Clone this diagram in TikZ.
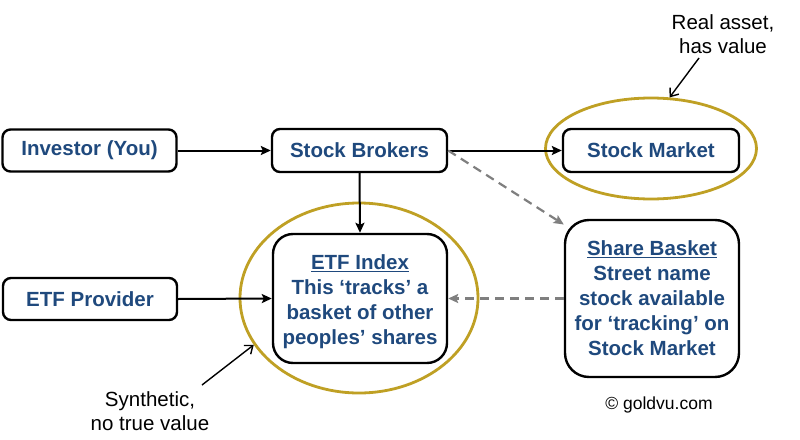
\documentclass[tikz,border=0pt]{standalone}
\usepackage{fontspec}
\setmainfont{Liberation Sans}
\usetikzlibrary{shapes.geometric,arrows.meta}
\definecolor{boxblue}{HTML}{1F497D}
\definecolor{ringgold}{HTML}{BFA024}
\definecolor{dashgray}{HTML}{7F7F7F}
\begin{document}
\begin{tikzpicture}[x=1pt,y=-1pt,
  box/.style={draw=black,line width=2.4pt,rounded corners=8pt,text=boxblue,
    font=\bfseries\fontsize{20.5}{25}\selectfont,inner sep=0pt,align=center},
  tallbox/.style={box,rounded corners=20pt},
  ring/.style={ellipse,draw=ringgold,line width=2.8pt,inner sep=0pt},
  flow/.style={draw=black,line width=2pt,-{Stealth[length=10pt,width=9pt,inset=2pt]}},
  dashflow/.style={draw=dashgray,line width=2.2pt,dash pattern=on 9pt off 6pt,
    -{Stealth[length=10pt,width=9pt,inset=2pt]}},
  note/.style={text=black,font=\fontsize{20.5}{24}\selectfont,align=center,inner sep=0pt},
  pointer/.style={draw=black,line width=1.4pt,-{Straight Barb[length=7pt,width=11pt]}}]
\fill[white] (0,0) rectangle (800,439);
\useasboundingbox (0,0) rectangle (800,439);
% rings
\node[ring,minimum width=211pt,minimum height=101pt] (ringm) at (651,148.5) {};
\node[ring,minimum width=238pt,minimum height=190pt] (ringi) at (359,298) {};
% boxes
\node[box,minimum width=174pt,minimum height=42pt] (inv) at (89.5,150.5) {Investor (You)};
\node[box,minimum width=175pt,minimum height=43pt] (brk) at (359.5,150.5) {Stock Brokers};
\node[box,minimum width=176pt,minimum height=43pt] (mkt) at (651,150.5) {Stock Market};
\node[box,minimum width=174pt,minimum height=42pt] (prov) at (90,299) {ETF Provider};
\node[tallbox,minimum width=174pt,minimum height=129pt] (idx) at (360,298.5)
  {\rule{0pt}{22pt}\underline{ETF Index}\\This ‘tracks’ a\\basket of other\\peoples’ shares};
\node[tallbox,rounded corners=24pt,minimum width=174pt,minimum height=157pt] (bsk) at (652,298.5)
  {\underline{Share Basket}\\Street name\\stock available\\for ‘tracking’ on\\Stock Market};
% notes
\node[note] (real) at (723,34) {Real asset,\\has value};
\node[note] (synth) at (150,411) {Synthetic,\\no true value};
\node[note,font=\fontsize{17.5}{20}\selectfont] (copy) at (659,405) {© goldvu.com};
\node[note,text=white,font=\fontsize{17.5}{20}\selectfont] (wmark) at (90,207) {© goldvu.com};
\coordinate (realtail) at (699,58);
\coordinate (synthtail) at (202,385);
% connectors
\draw[flow] (inv.east) -- (brk.west);
\draw[flow] (brk.east) -- (mkt.west);
\draw[flow] (brk.south) -- (idx.north);
\draw[flow] (prov.east) -- (idx.west);
\draw[dashflow] (brk.east) -- (bsk.140);
\draw[dashflow] (bsk.west) -- (idx.east);
\draw[pointer] (realtail) -- (ringm.70);
\draw[pointer] (synthtail) -- (ringi.204);
\end{tikzpicture}
\end{document}
